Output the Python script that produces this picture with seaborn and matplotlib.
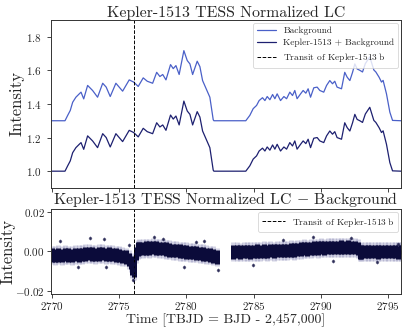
import numpy as np
import matplotlib
matplotlib.use("Agg")
import matplotlib.pyplot as plt
import seaborn as sns

# ---------------- data ----------------
bg_time = [2769.95, 2770.99, 2771.19, 2771.38, 2771.56, 2771.80, 2772.05, 2772.18, 2772.38, 2772.67,
           2773.04, 2773.41, 2773.79, 2774.05, 2774.35, 2774.77, 2775.27, 2775.76, 2776.09, 2776.43,
           2776.80, 2777.10, 2777.50, 2777.80, 2778.04, 2778.25, 2778.49, 2778.83, 2779.03, 2779.23,
           2779.47, 2779.82, 2780.07, 2780.27, 2780.47, 2780.81, 2781.01, 2781.21, 2781.51, 2781.75,
           2782.00, 2782.05, 2784.42, 2784.72, 2784.97, 2785.22, 2785.41, 2785.66, 2785.84, 2786.01,
           2786.21, 2786.41, 2786.58, 2786.75, 2787.00, 2787.25, 2787.45, 2787.69, 2787.89, 2788.06,
           2788.23, 2788.49, 2788.68, 2788.88, 2789.05, 2789.23, 2789.47, 2789.72, 2789.92, 2790.21,
           2790.42, 2790.66, 2790.86, 2791.03, 2791.20, 2791.53, 2791.77, 2791.95, 2792.15, 2792.35,
           2792.52, 2792.69, 2792.89, 2793.09, 2793.30, 2793.63, 2793.93, 2794.08, 2794.32, 2794.50,
           2794.62, 2794.87, 2795.12, 2795.32, 2795.95]
bg_flux = [1.300, 1.300, 1.332, 1.361, 1.410, 1.440, 1.460, 1.470, 1.430, 1.510,
           1.480, 1.440, 1.523, 1.500, 1.444, 1.523, 1.476, 1.543, 1.530, 1.504,
           1.555, 1.535, 1.523, 1.588, 1.563, 1.575, 1.543, 1.634, 1.610, 1.628,
           1.575, 1.717, 1.658, 1.638, 1.575, 1.654, 1.622, 1.539, 1.484, 1.440,
           1.306, 1.300, 1.300, 1.332, 1.372, 1.391, 1.420, 1.437, 1.420, 1.444,
           1.425, 1.456, 1.431, 1.460, 1.420, 1.444, 1.431, 1.470, 1.450, 1.480,
           1.431, 1.460, 1.480, 1.464, 1.490, 1.440, 1.496, 1.500, 1.480, 1.470,
           1.510, 1.539, 1.520, 1.535, 1.500, 1.490, 1.588, 1.559, 1.539, 1.588,
           1.638, 1.608, 1.600, 1.590, 1.640, 1.680, 1.602, 1.590, 1.559, 1.530,
           1.540, 1.460, 1.351, 1.302, 1.300]
tgt_flux = [1.000, 1.000, 1.032, 1.061, 1.110, 1.140, 1.160, 1.170, 1.130, 1.210,
            1.180, 1.140, 1.223, 1.200, 1.144, 1.223, 1.176, 1.243, 1.230, 1.204,
            1.255, 1.235, 1.223, 1.288, 1.263, 1.275, 1.243, 1.334, 1.310, 1.328,
            1.275, 1.417, 1.358, 1.338, 1.275, 1.354, 1.322, 1.239, 1.184, 1.140,
            1.006, 1.000, 1.000, 1.032, 1.072, 1.091, 1.120, 1.137, 1.120, 1.144,
            1.125, 1.156, 1.131, 1.160, 1.120, 1.144, 1.131, 1.170, 1.150, 1.180,
            1.131, 1.160, 1.180, 1.164, 1.190, 1.140, 1.196, 1.200, 1.180, 1.170,
            1.210, 1.239, 1.220, 1.235, 1.200, 1.190, 1.288, 1.259, 1.239, 1.288,
            1.338, 1.308, 1.300, 1.290, 1.340, 1.380, 1.302, 1.290, 1.259, 1.230,
            1.240, 1.160, 1.051, 1.002, 1.000]

# residual light curve (LC - background): band centre, read every ~0.25 d
res_time = [2770.00, 2770.25, 2770.50, 2770.75, 2771.00, 2771.25, 2771.50, 2771.75, 2772.00, 2772.25,
            2772.50, 2772.75, 2773.00, 2773.25, 2773.50, 2773.75, 2774.00, 2774.25, 2774.50, 2774.75,
            2775.00, 2775.25, 2775.50, 2775.75, 2775.90, 2776.00, 2776.08, 2776.15, 2776.25, 2776.40,
            2776.50, 2776.75, 2777.00, 2777.25, 2777.50, 2777.75, 2778.00, 2778.25, 2778.50, 2778.75,
            2779.00, 2779.25, 2779.50, 2779.75, 2780.00, 2780.25, 2780.50, 2780.75, 2781.00, 2781.25,
            2781.50, 2781.75, 2782.00, 2782.25,
            2783.50, 2783.75, 2784.00, 2784.25, 2784.50, 2784.75, 2785.00, 2785.25, 2785.50, 2785.75,
            2786.00, 2786.25, 2786.50, 2786.75, 2787.00, 2787.25, 2787.50, 2787.75, 2788.00, 2788.25,
            2788.50, 2788.75, 2789.00, 2789.25, 2789.50, 2789.75, 2790.00, 2790.25, 2790.50, 2790.75,
            2791.00, 2791.25, 2791.50, 2791.75, 2792.00, 2792.25, 2792.50, 2792.75, 2792.90, 2793.00,
            2793.25, 2793.50, 2793.75, 2794.00, 2794.25, 2794.50, 2794.75, 2795.00, 2795.25, 2795.50,
            2795.75, 2795.95]
res_flux = [-0.0018, -0.0020, -0.0017, -0.0019, -0.0016, -0.0018, -0.0020, -0.0015, -0.0017, -0.0014,
            -0.0012, -0.0010, -0.0013, -0.0015, -0.0012, -0.0010, -0.0014, -0.0013, -0.0016, -0.0018,
            -0.0020, -0.0024, -0.0028, -0.0040, -0.0055, -0.0085, -0.0095, -0.0065, -0.0010, 0.0012,
            0.0015, 0.0016, 0.0018, 0.0017, 0.0019, 0.0018, 0.0016, 0.0014, 0.0012, 0.0008,
            0.0005, 0.0004, 0.0002, 0.0000, -0.0002, -0.0004, -0.0006, -0.0008, -0.0010, -0.0012,
            -0.0014, -0.0018, -0.0022, -0.0028,
            -0.0002, 0.0000, -0.0003, -0.0001, 0.0001, -0.0002, 0.0000, 0.0002, 0.0000, 0.0003,
            0.0001, 0.0004, 0.0002, 0.0005, 0.0004, 0.0006, 0.0005, 0.0008, 0.0007, 0.0010,
            0.0012, 0.0014, 0.0013, 0.0016, 0.0018, 0.0017, 0.0019, 0.0018, 0.0020, 0.0019,
            0.0021, 0.0020, 0.0022, 0.0021, 0.0022, 0.0020, 0.0021, 0.0015, -0.0003, -0.0002,
            0.0000, -0.0001, 0.0001, 0.0000, -0.0002, 0.0001, 0.0000, -0.0001, 0.0001, 0.0000,
            -0.0002, -0.0001]
res_spread = 0.0034

# scattered individual points outside the band
out_time = [2771.93, 2772.87, 2773.90, 2774.03, 2775.76, 2776.01, 2777.62, 2779.84, 2780.71, 2781.33,
            2782.32, 2784.97, 2787.19, 2789.42, 2794.13, 2795.73, 2770.60, 2778.30, 2790.90, 2792.20]
out_flux = [-0.0079, 0.0067, 0.0064, -0.0079, 0.0034, -0.0146, 0.0072, -0.0079, 0.0050, 0.0055,
            -0.0096, -0.0070, 0.0059, 0.0072, -0.0054, 0.0039, 0.0055, 0.0062, -0.0050, 0.0070]

transit_time = 2776.13
xlim = (2769.95, 2795.95)

# ---------------- style ----------------
sns.set_style("ticks")
plt.rcParams["font.family"] = ["cmr10", "DejaVu Serif"]
plt.rcParams["mathtext.fontset"] = "cm"
plt.rcParams["axes.formatter.use_mathtext"] = True
plt.rcParams["axes.unicode_minus"] = True

c_bg = "#4a60c8"
c_tgt = "#1d2070"
c_res = "#0b0b3a"

fig = plt.figure(figsize=(4.07, 3.29), dpi=100)
ax1 = fig.add_axes([0.1253, 0.4286, 0.860, 0.511])
ax2 = fig.add_axes([0.1253, 0.1064, 0.860, 0.2584])

# ---------------- top panel ----------------
sns.lineplot(x=bg_time, y=bg_flux, ax=ax1, color=c_bg, lw=0.9, label="Background")
sns.lineplot(x=bg_time, y=tgt_flux, ax=ax1, color=c_tgt, lw=0.9, label="Kepler-1513 + Background")
ax1.axvline(transit_time, color="black", ls="--", lw=0.7, label=r"Transit of Kepler-1513$\,$b")
ax1.set_xlim(*xlim)
ax1.set_ylim(0.9, 1.9)
ax1.set_yticks([1.0, 1.2, 1.4, 1.6, 1.8])
ax1.set_xticks([2770, 2775, 2780, 2785, 2790, 2795])
ax1.set_xticklabels([])
ax1.set_ylabel("Intensity", fontsize=12, labelpad=1)
ax1.set_title("Kepler-1513 TESS Normalized LC", fontsize=11.4, pad=1)
ax1.tick_params(labelsize=8, length=3, width=0.6)
leg1 = ax1.legend(loc="upper right", fontsize=6.8, framealpha=0.8, handlelength=2.0,
                  borderaxespad=0.3, labelspacing=0.4)
leg1.get_frame().set_linewidth(0.6)

# ---------------- bottom panel ----------------
ax2.errorbar(res_time, res_flux, yerr=res_spread * 1.4, fmt="none", ecolor="#8080b0",
             elinewidth=3.5, alpha=0.35)
ax2.errorbar(res_time, res_flux, yerr=res_spread, fmt="o", ms=2.0, color=c_res,
             ecolor=c_res, elinewidth=3.6)
ax2.errorbar(out_time, out_flux, yerr=0.0010, fmt="o", ms=1.4, color=c_res,
             ecolor="#8888b4", elinewidth=0.7, alpha=0.6)
ax2.axvline(transit_time, color="black", ls="--", lw=0.7, label=r"Transit of Kepler-1513$\,$b")
ax2.set_xlim(*xlim)
ax2.set_ylim(-0.0215, 0.0215)
ax2.set_yticks([-0.02, 0.0, 0.02])
ax2.set_xticks([2770, 2775, 2780, 2785, 2790, 2795])
ax2.set_ylabel("Intensity", fontsize=12, labelpad=0)
ax2.set_xlabel("Time [TBJD = BJD - 2,457,000]", fontsize=10, labelpad=1)
ax2.set_title(r"Kepler-1513 TESS Normalized LC $-$ Background", fontsize=11.4, pad=1)
ax2.tick_params(labelsize=8, length=3, width=0.6, pad=1.5)
leg2 = ax2.legend(loc="upper right", fontsize=6.8, framealpha=0.8, handlelength=2.4,
                  borderaxespad=0.3)
leg2.get_frame().set_linewidth(0.6)

for ax in (ax1, ax2):
    for s in ax.spines.values():
        s.set_linewidth(0.7)
        s.set_color("#333333")

fig.savefig("out.png", dpi=100)
